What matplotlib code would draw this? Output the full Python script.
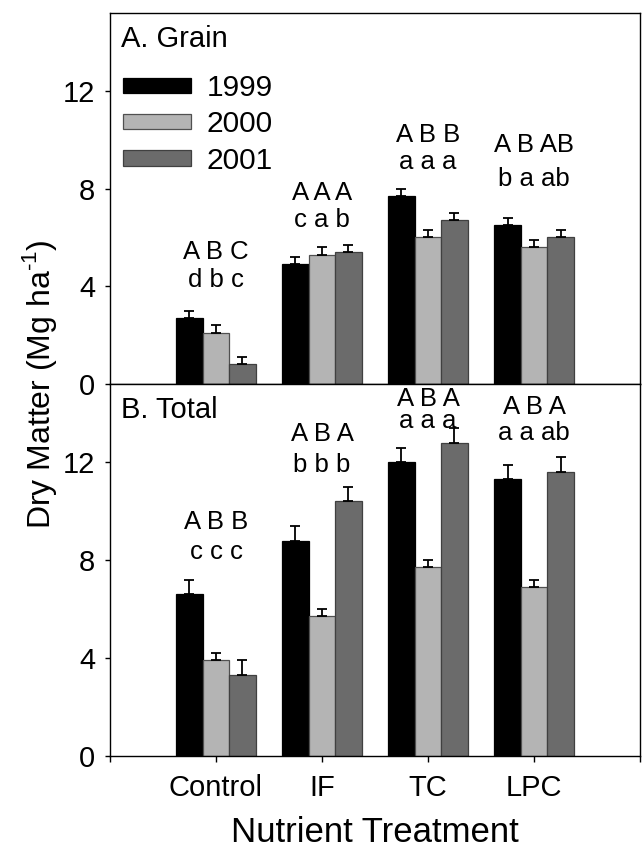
import matplotlib
matplotlib.use("Agg")
import matplotlib.pyplot as plt
import numpy as np

plt.rcParams['font.family'] = ['Liberation Sans', 'DejaVu Sans']
plt.rcParams['mathtext.fontset'] = 'custom'
plt.rcParams['mathtext.rm'] = 'Liberation Sans'

# data
treatments = ['Control', 'IF', 'TC', 'LPC']
years = ['1999', '2000', '2001']

grain = {
    '1999': [2.7, 4.9, 7.7, 6.5],
    '2000': [2.1, 5.3, 6.0, 5.6],
    '2001': [0.8, 5.4, 6.7, 6.0],
}
grain_err = {
    '1999': [0.3, 0.3, 0.3, 0.3],
    '2000': [0.3, 0.3, 0.3, 0.3],
    '2001': [0.3, 0.3, 0.3, 0.3],
}
total = {
    '1999': [6.6, 8.8, 12.0, 11.3],
    '2000': [3.9, 5.7, 7.7, 6.9],
    '2001': [3.3, 10.4, 12.8, 11.6],
}
total_err = {
    '1999': [0.6, 0.6, 0.6, 0.6],
    '2000': [0.3, 0.3, 0.3, 0.3],
    '2001': [0.6, 0.6, 0.6, 0.6],
}

# significance letters (upper = between years, lower = between treatments)
grain_upper = ['A B C', 'A A A', 'A B B', 'A B AB']
grain_lower = ['d b c', 'c a b', 'a a a', 'b a ab']
total_upper = ['A B B', 'A B A', 'A B A', 'A B A']
total_lower = ['c c c', 'b b b', 'a a a', 'a a ab']

# heights where the letter rows sit
grain_upper_y = [5.4, 7.8, 10.2, 9.8]
grain_lower_y = [4.25, 6.7, 9.1, 8.4]
total_upper_y = [9.55, 13.15, 14.6, 14.25]
total_lower_y = [8.35, 11.9, 13.7, 13.2]

colors = {'1999': '#000000', '2000': '#b4b4b4', '2001': '#6b6b6b'}
edges = {'1999': '#000000', '2000': '#505050', '2001': '#404040'}

fig = plt.figure(figsize=(6.42, 8.56), dpi=100)
ax1 = fig.add_axes([0.1713, 0.5514, 0.8256, 0.4338])
ax2 = fig.add_axes([0.1713, 0.1171, 0.8256, 0.4343])

x = np.arange(1, len(treatments) + 1)
w = 0.25


def draw_panel(ax, vals, errs, upper, lower, upper_y, lower_y, title):
    for k, yr in enumerate(years):
        pos = x + (k - 1) * w
        v = np.array(vals[yr])
        e = np.array(errs[yr])
        ax.bar(pos, v, w, color=colors[yr], edgecolor=edges[yr],
               linewidth=0.9, label=yr, zorder=2)
        ax.errorbar(pos, v, yerr=[np.zeros_like(e), e], fmt='none',
                    ecolor='black', elinewidth=1.3, capsize=3.3,
                    capthick=1.3, zorder=3)
    for i in range(len(treatments)):
        ax.text(x[i], upper_y[i], upper[i], ha='center', va='center',
                fontsize=18.5)
        ax.text(x[i], lower_y[i], lower[i], ha='center', va='center',
                fontsize=18.5)
    ax.set_xlim(0, 5)
    ax.set_ylim(0, 15.2)
    ax.set_yticks([0, 4, 8, 12])
    ax.tick_params(axis='y', direction='out', length=3.5, width=1,
                   labelsize=21, pad=7)
    ax.text(0.02, 0.93, title, transform=ax.transAxes, fontsize=21,
            ha='left', va='center')
    for s in ax.spines.values():
        s.set_linewidth(1.0)


draw_panel(ax1, grain, grain_err, grain_upper, grain_lower,
           grain_upper_y, grain_lower_y, 'A. Grain')
draw_panel(ax2, total, total_err, total_upper, total_lower,
           total_upper_y, total_lower_y, 'B. Total')

ax1.tick_params(axis='x', bottom=False, labelbottom=False)
ax2.set_xticks(range(0, 6))
ax2.set_xticklabels([''] + treatments + [''])
ax2.tick_params(axis='x', direction='out', length=4, width=1,
                labelsize=21, pad=9)
ax2.set_xlabel('Nutrient Treatment', fontsize=25, labelpad=10)

leg = ax1.legend(loc='upper left', bbox_to_anchor=(0.024, 0.835),
                 frameon=False, fontsize=21.5, handlelength=2.3,
                 handleheight=0.42, handletextpad=0.5, labelspacing=0.28,
                 borderpad=0, borderaxespad=0)

fig.text(0.062, 1 - 384 / 856, r'Dry Matter (Mg ha$^{\text{-1}}$)',
         rotation=90, ha='center', va='center', fontsize=23)

fig.savefig('out.png', dpi=100)
